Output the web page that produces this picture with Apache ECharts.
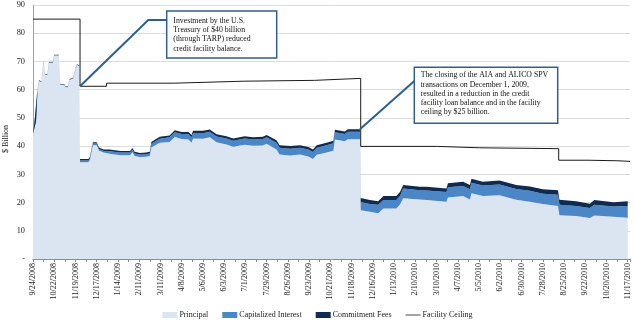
<!DOCTYPE html>
<html><head><meta charset="utf-8">
<script src="https://cdn.jsdelivr.net/npm/echarts@6/dist/echarts.min.js"></script>
<style>html,body{margin:0;padding:0;background:#fff}#c{width:635px;height:325px}</style>
</head><body><div id="c"></div>
<script>
// x values = days since 9/24/2008
const tickLabels = ['9/24/2008','10/22/2008','11/19/2008','12/17/2008','1/14/2009','2/11/2009','3/11/2009','4/8/2009','5/6/2009','6/3/2009','7/1/2009','7/29/2009','8/26/2009','9/23/2009','10/21/2009','11/18/2009','12/16/2009','1/13/2010','2/10/2010','3/10/2010','4/7/2010','5/5/2010','6/2/2010','6/30/2010','7/28/2010','8/25/2010','9/22/2010','10/20/2010','11/17/2010'];
const tickStep = 28;

const days = [0,2,4,6,8,11,13,14,16,19,21,26,28,34,36,41,43,46,48,53,56,58,61,
  62,73,75,79,84,87,93,101,115,128,131,134,141,149,154,
  156,167,180,187,196,205,209,211,224,233,242,255,264,279,290,303,308,321,325,339,352,363,369,374,387,396,398,411,415,431,
  432,444,455,462,479,484,488,510,519,545,547,567,576,578,593,615,637,655,672,692,694,716,734,740,765,784];

const principal = [44.3,48.3,48.7,60.2,63.0,62.7,67.7,69.9,65.2,65.2,69.5,69.5,72.1,72.1,61.7,61.7,60.9,60.9,63.4,64.0,67.2,68.7,68.3,
  34.3,34.3,35.1,40.3,40.3,38.4,37.7,37.3,36.8,36.8,37.8,36.5,36.1,36.2,36.5,
  39.5,41.2,41.5,43.2,42.5,42.3,41.2,42.7,42.6,43.1,41.4,40.6,39.8,40.5,40.1,40.2,40.8,38.8,37.0,36.7,37.0,36.3,35.4,36.9,37.7,38.4,42.3,41.7,42.4,42.4,
  17.3,16.7,16.2,17.9,17.9,19.4,21.5,21.1,20.9,20.3,21.8,22.3,21.1,23.3,22.3,22.6,21.0,20.3,19.5,18.8,15.5,15.2,14.5,15.4,15.0,14.6];

const capitalizedInterest = [0.1,0.1,0.1,0.1,0.1,0.1,0.1,0.1,0.1,0.1,0.1,0.1,0.1,0.1,0.1,0.1,0.1,0.1,0.1,0.1,0.1,0.1,0.1,
  0.6,0.6,0.6,0.6,0.6,0.6,0.6,0.9,0.9,0.9,0.9,0.9,0.9,0.9,0.9,
  1.3,1.4,1.6,1.7,1.8,1.9,1.9,1.9,2.0,2.0,2.0,2.1,2.1,2.2,2.2,2.3,2.3,2.4,2.4,2.4,2.4,2.5,2.5,2.5,2.6,2.6,2.6,2.6,2.7,2.7,
  2.9,2.8,3.0,3.0,3.0,3.0,3.5,3.3,3.4,3.4,3.6,3.6,3.6,3.7,3.7,3.8,3.8,3.9,3.6,4.0,3.7,3.6,3.6,3.8,3.6,4.2];

const commitmentFees = [0.2,0.2,0.2,0.2,0.2,0.2,0.2,0.2,0.2,0.2,0.2,0.2,0.2,0.2,0.2,0.2,0.2,0.2,0.2,0.2,0.2,0.2,0.2,
  0.5,0.5,0.5,0.5,0.5,0.5,0.5,0.6,0.6,0.6,0.6,0.6,0.6,0.6,0.6,
  0.7,0.7,0.7,0.7,0.7,0.8,0.8,0.8,0.8,0.8,0.8,0.8,0.8,0.8,0.8,0.8,0.8,0.9,0.9,0.9,0.9,0.9,0.9,0.9,0.9,0.9,0.9,0.9,0.9,0.9,
  1.4,1.4,1.3,1.4,1.4,1.4,1.2,1.2,1.3,1.3,1.4,1.5,1.5,1.4,1.4,1.4,1.4,1.5,1.6,1.6,1.8,1.7,1.5,1.7,1.5,1.7];

const ceilingDays = [0,62,97,186,278,371,432,533,589,693,733,771,787];
const facilityCeiling = [85,61.2,62.3,63.0,63.3,64.0,39.9,39.4,39.1,35.0,34.8,34.6,34.6];

const annotationTexts = [
  'Investment by the U.S.\nTreasury of $40 billion\n(through TARP) reduced\ncredit facility balance.',
  'The closing of the AIA and ALICO SPV\ntransactions on December 1, 2009,\nresulted in a reduction in the credit\nfacility loan balance and in the facility\nceiling by $25 billion.'
];
const annotationAnchors = [[62, 61.2], [431, 46.0]];

const FONT = '"Liberation Serif", "Times New Roman", serif';
// rows are [value, day] so that the stacked dimension is the value (y)
const rows = (arr) => arr.map((v, i) => [v, days[i]]);

const chart = echarts.init(document.getElementById('c'), null, {renderer: 'canvas'});
function area(name, vals, color) {
  return {
    name, type: 'line', stack: 'total', data: rows(vals), encode: {x: 1, y: 0},
    symbol: 'none', showSymbol: false,
    color, lineStyle: {width: 0}, areaStyle: {color, opacity: 1}, itemStyle: {color},
    animation: false, emphasis: {disabled: true}
  };
}
chart.setOption({
  animation: false,
  grid: {left: 33, right: 5, top: 5, bottom: 66, containLabel: false},
  xAxis: {
    type: 'value', min: 0, max: 787, interval: tickStep,
    axisLine: {show: true, lineStyle: {color: '#8c8c8c', width: 1}},
    axisTick: {show: true, length: 3, lineStyle: {color: '#8c8c8c'}},
    minorTick: {show: true, splitNumber: 2, length: 3, lineStyle: {color: '#8c8c8c'}},
    splitLine: {show: false},
    axisLabel: {
      rotate: 90, margin: 4, fontFamily: FONT, fontSize: 8, color: '#222',
      showMaxLabel: false,
      formatter: (v) => (v % tickStep === 0 && tickLabels[v / tickStep]) ? tickLabels[v / tickStep] : ''
    }
  },
  yAxis: {
    type: 'value', min: 0, max: 90, interval: 10,
    axisLine: {show: true, lineStyle: {color: '#a0a0a0', width: 1}},
    axisTick: {show: false},
    splitLine: {show: true, lineStyle: {color: '#dcdcdc', width: 1}},
    axisLabel: {margin: 8, fontFamily: FONT, fontSize: 8.3, color: '#222',
      formatter: (v) => v === 0 ? '-' : String(v)}
  },
  legend: {
    bottom: 1, left: 'center', itemWidth: 15, itemHeight: 6, itemGap: 14,
    textStyle: {fontFamily: FONT, fontSize: 8, color: '#222', padding: [0, 0, 0, -3]},
    selectedMode: false,
    data: [
      {name: 'Principal', icon: 'rect'},
      {name: 'Capitalized Interest', icon: 'rect'},
      {name: 'Commitment Fees', icon: 'rect'},
      {name: 'Facility Ceiling', icon: 'path://M0,0 M15,6 M0,2.6 L15,2.6 L15,3.4 L0,3.4 Z'}
    ]
  },
  series: [
    area('Principal', principal, '#dbe5f1'),
    area('Capitalized Interest', capitalizedInterest, '#4b86c6'),
    area('Commitment Fees', commitmentFees, '#0e2c52'),
    {
      name: 'Facility Ceiling', type: 'line', step: 'end', symbol: 'none', showSymbol: false,
      data: ceilingDays.map((d, i) => [d, facilityCeiling[i]]),
      color: '#1a1a1a', lineStyle: {color: '#1a1a1a', width: 1}, z: 5,
      animation: false, emphasis: {disabled: true}
    }
  ]
});

const a1 = chart.convertToPixel({gridIndex: 0}, annotationAnchors[0]);
const a2 = chart.convertToPixel({gridIndex: 0}, annotationAnchors[1]);
const leader = {stroke: '#2b5f91', lineWidth: 2, fill: null};
const box = {fill: '#fff', stroke: '#2e5f8f', lineWidth: 1.5};
chart.setOption({
  graphic: [
    {type: 'text', x: 6, y: 139, rotation: Math.PI / 2,
      style: {text: '$ Billion', font: '8px ' + FONT, fill: '#222', align: 'center', verticalAlign: 'middle'}},
    {type: 'polyline', z: 10, shape: {points: [a1, [148.3, 20], [166.7, 20]]}, style: leader},
    {type: 'rect', z: 10, shape: {x: 166.7, y: 11, width: 110, height: 47}, style: box},
    {type: 'text', z: 11, x: 173.3, y: 16,
      style: {text: annotationTexts[0], font: '7.8px ' + FONT, lineHeight: 9.3, fill: '#111', verticalAlign: 'top'}},
    {type: 'polyline', z: 10, shape: {points: [a2, [414.3, 81]]}, style: leader},
    {type: 'rect', z: 10, shape: {x: 414.3, y: 67.3, width: 143.4, height: 56}, style: box},
    {type: 'text', z: 11, x: 420.7, y: 70.5,
      style: {text: annotationTexts[1], font: '7.8px ' + FONT, lineHeight: 9.3, fill: '#111', verticalAlign: 'top'}}
  ]
});
</script>
</body></html>
